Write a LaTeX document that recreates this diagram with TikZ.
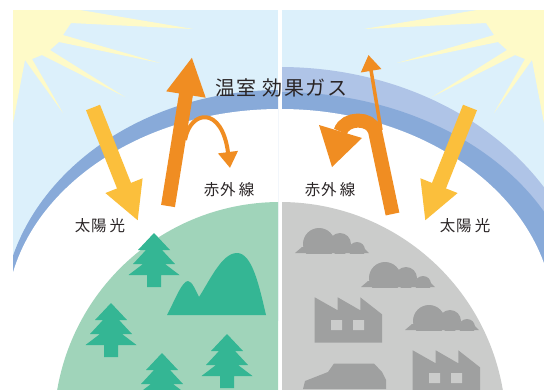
\documentclass[tikz,border=0pt]{standalone}
\usepackage{fontspec}
\newfontfamily\jp{Noto Sans CJK JP}
\usetikzlibrary{arrows.meta}

\definecolor{skyblue}{HTML}{DCF0FB}
\definecolor{sunlight}{HTML}{FEFAC8}
\definecolor{banddark}{HTML}{88AAD9}
\definecolor{bandlight}{HTML}{AFC4E7}
\definecolor{rayyellow}{HTML}{FBBF3C}
\definecolor{heatorange}{HTML}{F08D22}
\definecolor{earthgreen}{HTML}{A0D4BA}
\definecolor{treegreen}{HTML}{34B694}
\definecolor{earthgray}{HTML}{CBCCCB}
\definecolor{shapegray}{HTML}{9FA0A0}
\definecolor{inktext}{HTML}{2A2526}

\tikzset{
  label/.style={text=inktext, inner sep=0pt, font=\jp\fontsize{15.5}{16}\selectfont},
  pine/.pic={
    \fill[treegreen] (0,0) -- (16,17) -- (8,17) -- (21,31) -- (11,31) -- (25.5,42)
      -- (7,42) -- (7,54) -- (-7,54) -- (-7,42) -- (-25.5,42) -- (-11,31) -- (-21,31)
      -- (-8,17) -- (-16,17) -- cycle;
  },
  smog/.pic={
    \begin{scope}
      \clip (-1,-30) rectangle (76,0);
      \fill[shapegray] (24,-9) circle [radius=16pt];
      \fill[shapegray] (45,-9) circle [radius=11pt];
      \fill[shapegray] (62,-3) circle [radius=8pt];
      \fill[shapegray] (0,0) -- (7,-6) -- (68,-6) -- (74,0) -- cycle;
    \end{scope}
  },
  plant/.pic={
    \fill[shapegray] (0,0) -- (23,13) -- (23,0) -- (45.6,13) -- (45.6,0) -- (67.3,17)
      -- (67.3,45.4) -- (0,45.4) -- cycle;
    \fill[earthgray] (16.3,22.7) rectangle (27.3,32.7) (38.3,22.7) rectangle (49.3,32.7);
  },
  fatarrow/.style={line width=#1},
}

\begin{document}
\begin{tikzpicture}[x=1pt,y=-1pt]
\useasboundingbox (0,0) rectangle (544,389);

% ---------- left half: thin atmosphere, green earth ----------
\begin{scope}
  \clip (13,10) rectangle (278,389);
  \begin{scope}
    \clip (13,10) rectangle (278,320);
    \fill[skyblue] (13,10) rectangle (278,320);
    \fill[sunlight] (13,10) -- (80,10) -- (193,29) -- (71,23) -- (63,35) -- (160,63)
      -- (59,42) -- (50,50) -- (125,97) -- (42,55) -- (32,59) -- (63,113) -- (25,60)
      -- (13,123) -- cycle;
    \fill[banddark] (280,320) ellipse [x radius=278pt, y radius=230pt];
    \fill[white] (280,320) ellipse [x radius=274pt, y radius=211pt];
  \end{scope}
  \fill[earthgreen] (280,428) circle [radius=226pt];
  \pic at (154,233) {pine};
  \pic at (111,303) {pine};
  \pic at (227,334) {pine};
  \pic at (162,353) {pine};
  \fill[treegreen] (167,315) .. controls (175,300) and (182,281) .. (188,281)
    .. controls (192,281) and (196,291) .. (199,297)
    .. controls (210,280) and (222,253) .. (237,253)
    .. controls (252,253) and (259,285) .. (266,315) -- cycle;
\end{scope}

% ---------- right half: thick atmosphere, grey earth ----------
\begin{scope}
  \clip (282,10) rectangle (544,389);
  \begin{scope}
    \clip (282,10) rectangle (544,320);
    \fill[skyblue] (282,10) rectangle (544,320);
    \fill[sunlight] (544,10) -- (477,10) -- (364,29) -- (486,23) -- (494,35) -- (397,63)
      -- (498,42) -- (507,50) -- (432,97) -- (515,55) -- (525,59) -- (494,113) -- (532,60)
      -- (544,123) -- cycle;
    \fill[bandlight] (280,320) ellipse [x radius=310pt, y radius=253pt];
    \fill[banddark] (280,320) ellipse [x radius=300pt, y radius=228pt];
    \fill[white] (280,320) ellipse [x radius=274pt, y radius=211pt];
  \end{scope}
  \fill[earthgray] (280,428) circle [radius=226pt];
  \pic at (295,253) {smog};
  \pic at (361,287) {smog};
  \pic at (405,330) {smog};
  \pic at (314.7,297.3) {plant};
  \pic at (412.7,350.3) {plant};
  \fill[shapegray] (303,389) -- (305,381) -- (328,372) -- (334,363.5) -- (374,363.5)
    -- (382,372) -- (386,380) -- (386,389) -- cycle;
\end{scope}

% ---------- arrows ----------
\coordinate (sunL0) at (93,107.5);
\coordinate (sunL1) at (138,221);
\coordinate (sunR0) at (470,107.5);
\coordinate (sunR1) at (425,221);
\coordinate (irL0) at (168,206);
\coordinate (irL1) at (192,57);
\coordinate (bounceL0) at (185,140);
\coordinate (bounceL1) at (230,168);
\coordinate (irR0) at (392.5,214);
\coordinate (irRbend) at (375,131);
\coordinate (irRhead) at (340.5,131.5);
\coordinate (leakR0) at (381,130);
\coordinate (leakR1) at (368.5,55);

\draw[rayyellow, fatarrow=15pt, -{Triangle[width=37pt,length=38pt]}] (sunL0) -- (sunL1);
\draw[rayyellow, fatarrow=15pt, -{Triangle[width=37pt,length=38pt]}] (sunR0) -- (sunR1);

\draw[heatorange, fatarrow=14pt, -{Triangle[width=37pt,length=38pt]}] (irL0) -- (irL1);
\draw[heatorange, fatarrow=4pt, -{Triangle[width=19pt,length=16pt]}]
  (bounceL0) .. controls (190,110) and (222,105) .. (bounceL1);

\draw[heatorange, fatarrow=3.5pt, -{Triangle[width=20pt,length=16pt]}] (leakR0) -- (leakR1);
\draw[heatorange, fatarrow=14pt] (irR0) -- (irRbend)
  .. controls (371,117) and (345,117) .. (irRhead);
\fill[heatorange] (319,125) -- (362,138) -- (332,167) -- cycle;

% ---------- labels ----------
\node[label, font=\jp\fontsize{20}{20}\selectfont] (gas) at (281,88)
  {温\kern1.5pt 室\kern6pt 効\kern1.5pt 果\kern1.5pt ガ\kern1.5pt ス};
\node[label] (irLtext) at (229,190) {赤\kern1pt 外\kern3pt 線};
\node[label] (irRtext) at (330,190) {赤\kern1pt 外\kern3pt 線};
\node[label] (sunLtext) at (100,226) {太\kern1pt 陽\kern3pt 光};
\node[label] (sunRtext) at (465,226) {太\kern1pt 陽\kern3pt 光};
\end{tikzpicture}
\end{document}
